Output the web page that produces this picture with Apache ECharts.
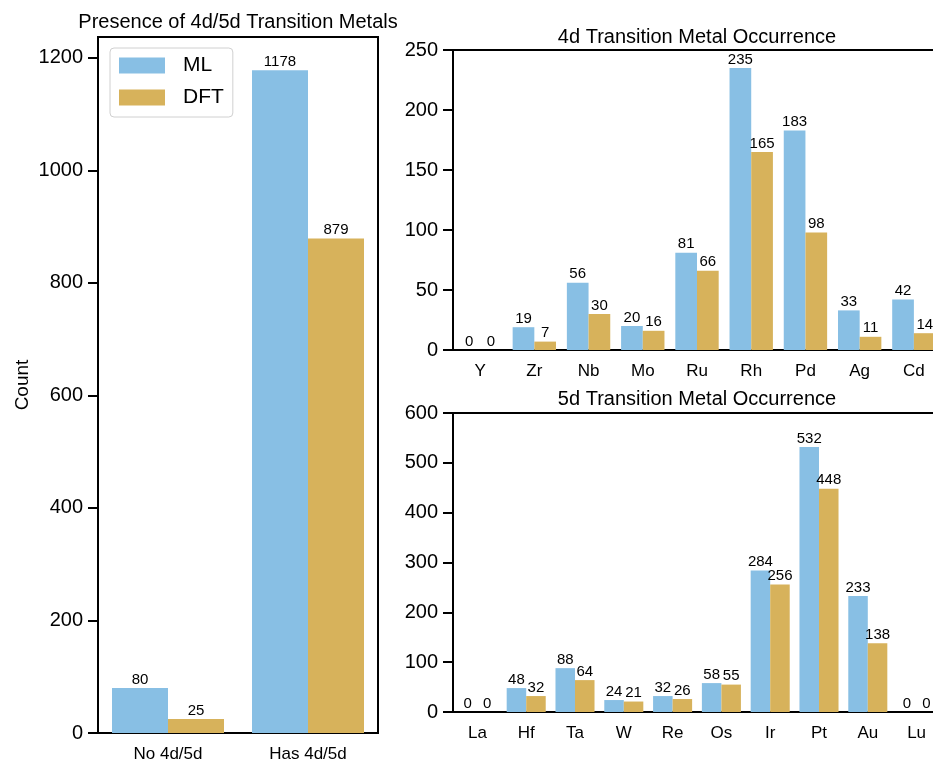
<!DOCTYPE html>
<html>
<head>
<meta charset="utf-8">
<script src="https://cdn.jsdelivr.net/npm/echarts@6/dist/echarts.min.js"></script>
<style>
  html, body { margin: 0; padding: 0; background: #fff; overflow: hidden; }
  #chart { width: 933px; height: 762px; }
</style>
</head>
<body>
<div id="chart"></div>
<script>
// Overall presence of 4d/5d metals
const presenceCategories = ['No 4d/5d', 'Has 4d/5d'];
const presenceML = [80, 1178];
const presenceDFT = [25, 879];
const presenceTicks = [0, 200, 400, 600, 800, 1000, 1200];

// 4d metal occurrence
const metals4d = ['Y', 'Zr', 'Nb', 'Mo', 'Ru', 'Rh', 'Pd', 'Ag', 'Cd'];
const ml4d = [0, 19, 56, 20, 81, 235, 183, 33, 42];
const dft4d = [0, 7, 30, 16, 66, 165, 98, 11, 14];
const ticks4d = [0, 50, 100, 150, 200, 250];

// 5d metal occurrence
const metals5d = ['La', 'Hf', 'Ta', 'W', 'Re', 'Os', 'Ir', 'Pt', 'Au', 'Lu'];
const ml5d = [0, 48, 88, 24, 32, 58, 284, 532, 233, 0];
const dft5d = [0, 32, 64, 21, 26, 55, 256, 448, 138, 0];
const ticks5d = [0, 100, 200, 300, 400, 500, 600];

const FONT = 'Liberation Sans, Arial, Helvetica, sans-serif';
const ML_COLOR = '#88BFE4';
const DFT_COLOR = '#D7B25B';

const chart = echarts.init(document.getElementById('chart'), null, { renderer: 'canvas' });

function xAxisFor(gridIndex, data) {
  return {
    type: 'category', gridIndex, data,
    axisLine: { lineStyle: { color: '#000', width: 2 } },
    axisTick: { alignWithLabel: true, length: 10, lineStyle: { color: '#000', width: 2 } },
    axisLabel: { color: '#000', fontSize: 17, fontFamily: FONT, margin: 13, interval: 0 }
  };
}
function yAxisFor(gridIndex, max, ticks, extra) {
  return Object.assign({
    type: 'value', gridIndex, min: 0, max,
    splitLine: { show: false },
    axisLine: { show: true, lineStyle: { color: '#000', width: 2 } },
    axisTick: { show: true, length: 10, lineStyle: { color: '#000', width: 2 }, customValues: ticks },
    axisLabel: { color: '#000', fontSize: 20, fontFamily: FONT, margin: 15, customValues: ticks,
                 formatter: v => String(v) }
  }, extra || {});
}
function barSeries(name, color, xi, yi, data, fs) {
  return {
    type: 'bar', name, xAxisIndex: xi, yAxisIndex: yi, data,
    barWidth: '40%', barGap: '0%',
    itemStyle: { color },
    label: { show: true, position: 'top', distance: 1, color: '#000', fontSize: fs, fontFamily: FONT }
  };
}

const gridStyle = { show: true, borderColor: '#000', borderWidth: 2, backgroundColor: 'transparent',
                    containLabel: false, outerBoundsMode: 'none' };

chart.setOption({
  animation: false,
  backgroundColor: '#fff',
  textStyle: { fontFamily: FONT },
  grid: [
    Object.assign({ left: 98, top: 37, width: 280, height: 696 }, gridStyle),
    Object.assign({ left: 453, top: 50, width: 488, height: 300 }, gridStyle),
    Object.assign({ left: 453, top: 413, width: 488, height: 299 }, gridStyle)
  ],
  legend: {
    data: ['ML', 'DFT'],
    orient: 'vertical', left: 110, top: 48,
    icon: 'rect', itemWidth: 46, itemHeight: 16, itemGap: 11,
    padding: [7, 9, 9, 9],
    borderColor: '#d0d0d0', borderWidth: 1, borderRadius: 4, backgroundColor: '#fff',
    textStyle: { fontSize: 21, color: '#000', fontFamily: FONT, padding: [0, 0, 0, 13] }
  },
  graphic: [
    { type: 'text', x: 238, y: 22, style: { text: 'Presence of 4d/5d Transition Metals', fontSize: 20, fontFamily: FONT, fill: '#000', align: 'center', verticalAlign: 'middle' } },
    { type: 'text', x: 697, y: 37, style: { text: '4d Transition Metal Occurrence', fontSize: 20, fontFamily: FONT, fill: '#000', align: 'center', verticalAlign: 'middle' } },
    { type: 'text', x: 697, y: 399, style: { text: '5d Transition Metal Occurrence', fontSize: 20, fontFamily: FONT, fill: '#000', align: 'center', verticalAlign: 'middle' } }
  ],
  xAxis: [
    xAxisFor(0, presenceCategories),
    xAxisFor(1, metals4d),
    xAxisFor(2, metals5d)
  ],
  yAxis: [
    yAxisFor(0, Math.max(...presenceML) * 1.05, presenceTicks, {
      name: 'Count', nameLocation: 'middle', nameGap: 66, nameRotate: 90,
      nameTextStyle: { fontSize: 19, color: '#000', fontFamily: FONT }
    }),
    yAxisFor(1, 250, ticks4d),
    yAxisFor(2, 600, ticks5d)
  ],
  series: [
    barSeries('ML', ML_COLOR, 0, 0, presenceML, 15),
    barSeries('DFT', DFT_COLOR, 0, 0, presenceDFT, 15),
    barSeries('ML', ML_COLOR, 1, 1, ml4d, 15),
    barSeries('DFT', DFT_COLOR, 1, 1, dft4d, 15),
    barSeries('ML', ML_COLOR, 2, 2, ml5d, 15),
    barSeries('DFT', DFT_COLOR, 2, 2, dft5d, 15)
  ]
});
</script>
</body>
</html>
